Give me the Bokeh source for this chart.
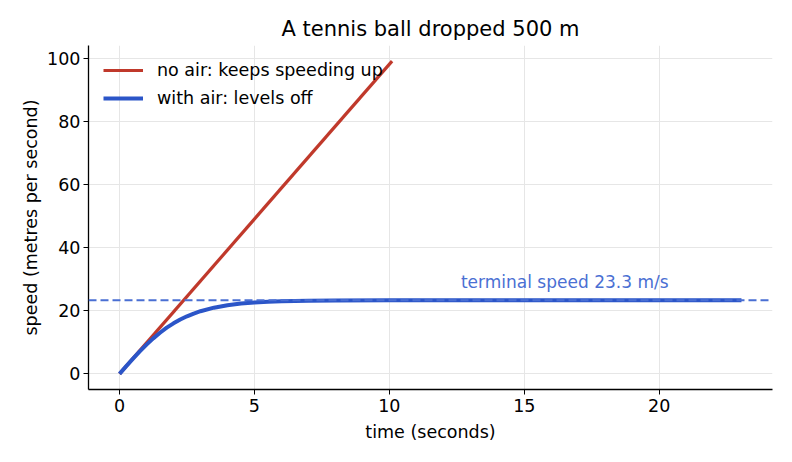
from bokeh.plotting import figure
from bokeh.models import Span, Legend, LegendItem, Range1d, FixedTicker
from bokeh.embed import file_html
from bokeh.resources import INLINE

# ---- data ----
t_noair = [0.0, 10.1]
v_noair = [0.0, 99.05]

t_air = [0.0, 0.25, 0.5, 0.75, 1.0, 1.25, 1.5, 1.75, 2.0, 2.25, 2.5, 2.75,
         3.0, 3.5, 4.0, 4.5, 5.0, 5.5, 6.0, 7.0, 8.0, 10.0, 15.0, 20.0, 23.05]
v_air = [0.0, 2.44, 4.83, 7.13, 9.27, 11.25, 13.02, 14.63, 16.0, 17.2, 18.24, 19.1,
         19.85, 20.97, 21.74, 22.27, 22.62, 22.85, 23.0, 23.17, 23.24, 23.29, 23.3, 23.3, 23.3]

terminal_speed = 23.3
x_ticks = [0, 5, 10, 15, 20]
y_ticks = [0, 20, 40, 60, 80, 100]

RED = "#c0392b"
BLUE = "#2b55c8"
DASH = "#4a6fd3"
FONT = "DejaVu Sans"

p = figure(width=776, height=446, output_backend="svg", toolbar_location=None,
           x_range=Range1d(-1.15, 24.2), y_range=Range1d(-4.95, 104.0),
           min_border_left=88, min_border_right=4, min_border_top=45,
           min_border_bottom=57, title="A tennis ball dropped 500 m")

p.title.align = "center"
p.title.text_font = FONT
p.title.text_font_size = "21px"
p.title.text_font_style = "normal"
p.title.text_color = "black"

p.outline_line_color = None
p.background_fill_color = "white"
p.border_fill_color = "white"

for ax in (p.xaxis[0], p.yaxis[0]):
    ax.major_label_text_font = FONT
    ax.major_label_text_font_size = "17.5px"
    ax.major_label_text_color = "black"
    ax.axis_label_text_font = FONT
    ax.axis_label_text_font_size = "17.5px"
    ax.axis_label_text_font_style = "normal"
    ax.axis_label_text_color = "black"
    ax.axis_line_color = "black"
    ax.axis_line_width = 1.3
    ax.major_tick_line_color = "black"
    ax.major_tick_out = 5
    ax.major_tick_in = 0
    ax.minor_tick_line_color = None

p.xaxis.ticker = FixedTicker(ticks=x_ticks)
p.yaxis.ticker = FixedTicker(ticks=y_ticks)
p.xaxis.axis_label = "time (seconds)"
p.yaxis.axis_label = "speed (metres per second)"
p.xaxis.major_label_standoff = 4
p.yaxis.major_label_standoff = 3
p.xaxis.axis_label_standoff = 7
p.yaxis.axis_label_standoff = 3

p.grid.grid_line_color = "#e6e6e6"
p.grid.grid_line_width = 1

span = Span(location=terminal_speed, dimension="width", line_color=DASH,
            line_width=2, line_dash="8 4")
p.add_layout(span)

r_red = p.line(t_noair, v_noair, line_color=RED, line_width=3.2)
r_blue = p.line(t_air, v_air, line_color=BLUE, line_width=4)

p.text(x=[16.5], y=[29.0], text=[f"terminal speed {terminal_speed} m/s"],
       text_color=DASH, text_font={"value": FONT}, text_font_size="17px",
       text_align="center", text_baseline="alphabetic")

legend = Legend(items=[LegendItem(label="no air: keeps speeding up", renderers=[r_red]),
                       LegendItem(label="with air: levels off", renderers=[r_blue])],
                location="top_left")
legend.border_line_color = None
legend.background_fill_alpha = 0
legend.label_text_font = FONT
legend.label_text_font_size = "17.5px"
legend.label_text_color = "black"
legend.glyph_width = 40
legend.glyph_height = 20
legend.label_standoff = 14
legend.spacing = 8
legend.padding = 4
legend.margin = 15
p.add_layout(legend)

open("out.html", "w").write(file_html(p, INLINE))
